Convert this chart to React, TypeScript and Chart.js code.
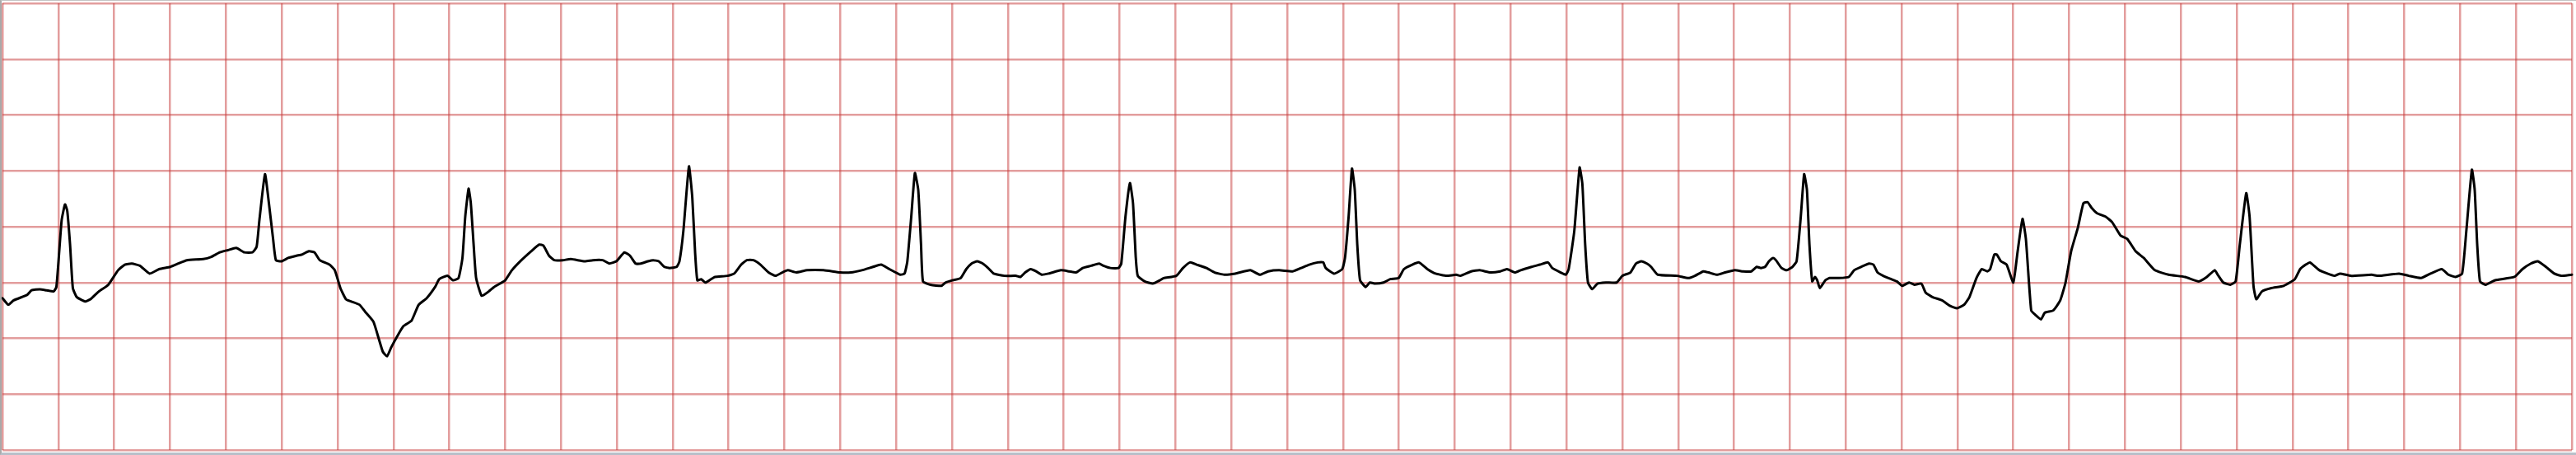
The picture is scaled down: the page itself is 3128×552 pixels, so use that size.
import React, { useEffect, useRef } from "react";
import { Chart, registerables } from "chart.js";

Chart.register(...registerables);

// ECG strip: 25 mm/s (0.2 s per large box), 10 mm/mV (0.5 mV per large box)
const timeRangeSec = [0, 9.2];
const voltRangeMv = [-2, 2];
const gridStepSec = 0.2;
const gridStepMv = 0.5;

const ecgTimeSec = [
  0.0, 0.021, 0.04, 0.089, 0.104, 0.134, 0.158, 0.183, 0.193, 0.203, 0.212, 0.224, 0.232, 0.242, 0.252, 0.266,
  0.296, 0.315, 0.345, 0.379, 0.414, 0.438, 0.463, 0.492, 0.527, 0.561, 0.601, 0.63, 0.66, 0.719, 0.748, 0.778,
  0.807, 0.837, 0.866, 0.895, 0.91, 0.92, 0.94, 0.954, 0.969, 0.979, 0.999, 1.023, 1.053, 1.072, 1.097, 1.117,
  1.136, 1.171, 1.19, 1.21, 1.23, 1.249, 1.279, 1.298, 1.328, 1.347, 1.362, 1.377, 1.392, 1.416, 1.436, 1.465,
  1.49, 1.519, 1.549, 1.564, 1.593, 1.613, 1.633, 1.647, 1.657, 1.669, 1.677, 1.687, 1.696, 1.716, 1.741, 1.76,
  1.8, 1.824, 1.858, 1.893, 1.922, 1.937, 1.957, 1.976, 2.006, 2.035, 2.085, 2.114, 2.149, 2.173, 2.198, 2.227,
  2.247, 2.267, 2.286, 2.311, 2.33, 2.35, 2.37, 2.389, 2.414, 2.424, 2.438, 2.458, 2.47, 2.48, 2.488, 2.502,
  2.517, 2.537, 2.551, 2.596, 2.62, 2.645, 2.665, 2.689, 2.714, 2.743, 2.768, 2.792, 2.812, 2.842, 2.881, 2.94,
  2.999, 3.038, 3.077, 3.117, 3.146, 3.176, 3.215, 3.23, 3.24, 3.254, 3.267, 3.279, 3.289, 3.296, 3.323, 3.362,
  3.377, 3.402, 3.431, 3.451, 3.47, 3.49, 3.51, 3.529, 3.549, 3.588, 3.628, 3.645, 3.662, 3.682, 3.701, 3.721,
  3.746, 3.79, 3.819, 3.844, 3.868, 3.898, 3.927, 3.942, 3.967, 3.996, 4.006, 4.021, 4.037, 4.048, 4.058, 4.065,
  4.09, 4.119, 4.144, 4.158, 4.203, 4.227, 4.252, 4.276, 4.311, 4.34, 4.375, 4.414, 4.468, 4.502, 4.532, 4.571,
  4.62, 4.65, 4.679, 4.709, 4.729, 4.738, 4.768, 4.797, 4.807, 4.82, 4.832, 4.842, 4.851, 4.861, 4.881, 4.896,
  4.915, 4.945, 4.969, 4.999, 5.018, 5.048, 5.072, 5.102, 5.131, 5.171, 5.205, 5.22, 5.259, 5.289, 5.328, 5.363,
  5.387, 5.416, 5.436, 5.475, 5.505, 5.534, 5.549, 5.579, 5.598, 5.608, 5.628, 5.647, 5.657, 5.667, 5.677, 5.692,
  5.711, 5.741, 5.78, 5.8, 5.829, 5.849, 5.868, 5.888, 5.903, 5.927, 5.996, 6.036, 6.06, 6.09, 6.109, 6.139,
  6.168, 6.203, 6.232, 6.262, 6.281, 6.296, 6.311, 6.325, 6.34, 6.35, 6.37, 6.389, 6.409, 6.424, 6.439, 6.451,
  6.461, 6.47, 6.48, 6.49, 6.498, 6.507, 6.527, 6.542, 6.576, 6.611, 6.63, 6.655, 6.684, 6.699, 6.714, 6.734,
  6.763, 6.783, 6.802, 6.827, 6.846, 6.871, 6.886, 6.91, 6.945, 6.974, 6.999, 7.023, 7.043, 7.068, 7.087, 7.107,
  7.117, 7.132, 7.141, 7.156, 7.176, 7.2, 7.215, 7.233, 7.245, 7.264, 7.279, 7.299, 7.313, 7.343, 7.368, 7.387,
  7.407, 7.431, 7.451, 7.466, 7.48, 7.5, 7.53, 7.554, 7.584, 7.608, 7.638, 7.667, 7.707, 7.756, 7.815, 7.864,
  7.893, 7.921, 7.932, 7.952, 7.977, 7.996, 8.011, 8.034, 8.046, 8.06, 8.07, 8.09, 8.124, 8.168, 8.208, 8.227,
  8.247, 8.262, 8.296, 8.35, 8.37, 8.409, 8.483, 8.507, 8.581, 8.616, 8.66, 8.694, 8.734, 8.758, 8.783, 8.807,
  8.822, 8.842, 8.852, 8.861, 8.871, 8.891, 8.925, 8.994, 9.023, 9.053, 9.078, 9.107, 9.137, 9.162, 9.2, 9.214,
];

const ecgMilliVolts = [
  -0.64, -0.7, -0.66, -0.61, -0.57, -0.56, -0.57, -0.58, -0.54, -0.23, 0.06, 0.2, 0.14, -0.16, -0.55, -0.63,
  -0.67, -0.65, -0.58, -0.52, -0.39, -0.34, -0.33, -0.35, -0.42, -0.38, -0.36, -0.33, -0.3, -0.29, -0.27, -0.23,
  -0.21, -0.19, -0.23, -0.23, -0.18, 0.06, 0.47, 0.21, -0.11, -0.3, -0.31, -0.28, -0.26, -0.25, -0.22, -0.23,
  -0.3, -0.34, -0.39, -0.55, -0.65, -0.67, -0.7, -0.76, -0.85, -1.0, -1.12, -1.16, -1.08, -0.97, -0.89, -0.84,
  -0.7, -0.64, -0.54, -0.47, -0.44, -0.48, -0.46, -0.28, 0.09, 0.34, 0.21, -0.16, -0.46, -0.62, -0.58, -0.54,
  -0.48, -0.39, -0.3, -0.22, -0.16, -0.17, -0.26, -0.3, -0.3, -0.29, -0.31, -0.3, -0.3, -0.33, -0.31, -0.23,
  -0.26, -0.33, -0.33, -0.31, -0.3, -0.31, -0.36, -0.37, -0.36, -0.31, -0.04, 0.54, 0.26, -0.23, -0.48, -0.47,
  -0.5, -0.47, -0.45, -0.44, -0.42, -0.34, -0.3, -0.3, -0.34, -0.41, -0.44, -0.41, -0.39, -0.41, -0.39, -0.39,
  -0.41, -0.41, -0.39, -0.36, -0.34, -0.38, -0.43, -0.42, -0.31, 0.09, 0.48, 0.33, -0.16, -0.49, -0.52, -0.53,
  -0.5, -0.48, -0.46, -0.38, -0.33, -0.31, -0.33, -0.37, -0.42, -0.44, -0.44, -0.45, -0.41, -0.38, -0.4, -0.43,
  -0.42, -0.39, -0.4, -0.41, -0.37, -0.35, -0.33, -0.35, -0.37, -0.37, -0.33, 0.09, 0.39, 0.21, -0.28, -0.44,
  -0.49, -0.51, -0.48, -0.46, -0.44, -0.37, -0.32, -0.34, -0.37, -0.41, -0.43, -0.42, -0.39, -0.43, -0.4, -0.39,
  -0.4, -0.37, -0.34, -0.32, -0.32, -0.37, -0.42, -0.38, -0.28, 0.09, 0.52, 0.33, -0.16, -0.48, -0.54, -0.5,
  -0.51, -0.5, -0.47, -0.46, -0.38, -0.34, -0.32, -0.38, -0.42, -0.44, -0.43, -0.44, -0.4, -0.39, -0.41, -0.4,
  -0.38, -0.41, -0.39, -0.36, -0.34, -0.32, -0.37, -0.41, -0.43, -0.38, -0.04, 0.53, 0.38, -0.16, -0.5, -0.56,
  -0.51, -0.5, -0.5, -0.44, -0.41, -0.33, -0.31, -0.33, -0.36, -0.43, -0.44, -0.46, -0.44, -0.4, -0.41, -0.43,
  -0.41, -0.39, -0.4, -0.4, -0.36, -0.37, -0.36, -0.31, -0.28, -0.3, -0.37, -0.39, -0.36, -0.31, 0.09, 0.47,
  0.33, -0.16, -0.49, -0.45, -0.48, -0.55, -0.48, -0.46, -0.46, -0.45, -0.39, -0.36, -0.33, -0.34, -0.41, -0.44,
  -0.47, -0.49, -0.53, -0.5, -0.52, -0.51, -0.59, -0.63, -0.66, -0.71, -0.73, -0.7, -0.63, -0.46, -0.38, -0.4,
  -0.38, -0.25, -0.25, -0.31, -0.34, -0.5, -0.23, 0.07, -0.11, -0.75, -0.79, -0.83, -0.77, -0.75, -0.66, -0.5,
  -0.22, -0.01, 0.21, 0.22, 0.17, 0.12, 0.09, 0.04, -0.08, -0.11, -0.22, -0.28, -0.39, -0.43, -0.45, -0.49,
  -0.45, -0.39, -0.43, -0.5, -0.52, -0.49, -0.16, 0.3, 0.09, -0.53, -0.65, -0.58, -0.55, -0.53, -0.47, -0.38,
  -0.34, -0.32, -0.39, -0.44, -0.42, -0.44, -0.43, -0.44, -0.42, -0.44, -0.46, -0.42, -0.38, -0.43, -0.45, -0.42,
  -0.04, 0.51, 0.33, -0.16, -0.49, -0.52, -0.48, -0.45, -0.38, -0.33, -0.31, -0.36, -0.42, -0.44, -0.43, -0.43,
];

const gridColor = "rgba(200, 60, 60, 0.5)";

export default function App() {
  const canvasRef = useRef<HTMLCanvasElement | null>(null);

  useEffect(() => {
    document.body.style.margin = "0";
    const canvas = canvasRef.current;
    if (!canvas) return;
    const points = ecgTimeSec.map((t, i) => ({ x: t, y: ecgMilliVolts[i] }));
    const xCount = Math.round((timeRangeSec[1] - timeRangeSec[0]) / gridStepSec);
    const yCount = Math.round((voltRangeMv[1] - voltRangeMv[0]) / gridStepMv);
    const chart = new Chart(canvas, {
      type: "line",
      data: {
        datasets: [
          {
            label: "ECG",
            data: points,
            borderColor: "#000000",
            borderWidth: 3,
            pointRadius: 0,
            tension: 0.15,
            fill: false,
            clip: false,
            borderJoinStyle: "round",
            borderCapStyle: "round",
          },
        ],
      },
      options: {
        animation: false,
        responsive: false,
        maintainAspectRatio: false,
        devicePixelRatio: 1,
        layout: { padding: { left: 1, top: 3, right: 5, bottom: 3 } },
        plugins: { legend: { display: false }, tooltip: { enabled: false } },
        scales: {
          x: {
            type: "linear",
            min: timeRangeSec[0],
            max: timeRangeSec[1],
            afterBuildTicks: (scale: any) => {
              scale.ticks = Array.from({ length: xCount + 1 }, (_, i) => ({
                value: timeRangeSec[0] + (i * (timeRangeSec[1] - timeRangeSec[0])) / xCount,
              }));
            },
            ticks: { display: false },
            grid: { color: gridColor, lineWidth: 2.5, drawTicks: false },
            border: { display: false },
          },
          y: {
            type: "linear",
            min: voltRangeMv[0],
            max: voltRangeMv[1],
            afterBuildTicks: (scale: any) => {
              scale.ticks = Array.from({ length: yCount + 1 }, (_, i) => ({
                value: voltRangeMv[0] + (i * (voltRangeMv[1] - voltRangeMv[0])) / yCount,
              }));
            },
            ticks: { display: false },
            grid: { color: gridColor, lineWidth: 2.5, drawTicks: false },
            border: { display: false },
          },
        },
      },
    });
    return () => chart.destroy();
  }, []);

  return (
    <div
      style={{
        width: 3128,
        height: 552,
        boxSizing: "border-box",
        borderLeft: "2px solid #a9a9a9",
        borderTop: "1px solid #c4c4c4",
        borderBottom: "3px solid #b8bfc9",
        background: "#ffffff",
      }}
    >
      <canvas ref={canvasRef} width={3126} height={548} style={{ display: "block", width: 3126, height: 548 }} />
    </div>
  );
}
